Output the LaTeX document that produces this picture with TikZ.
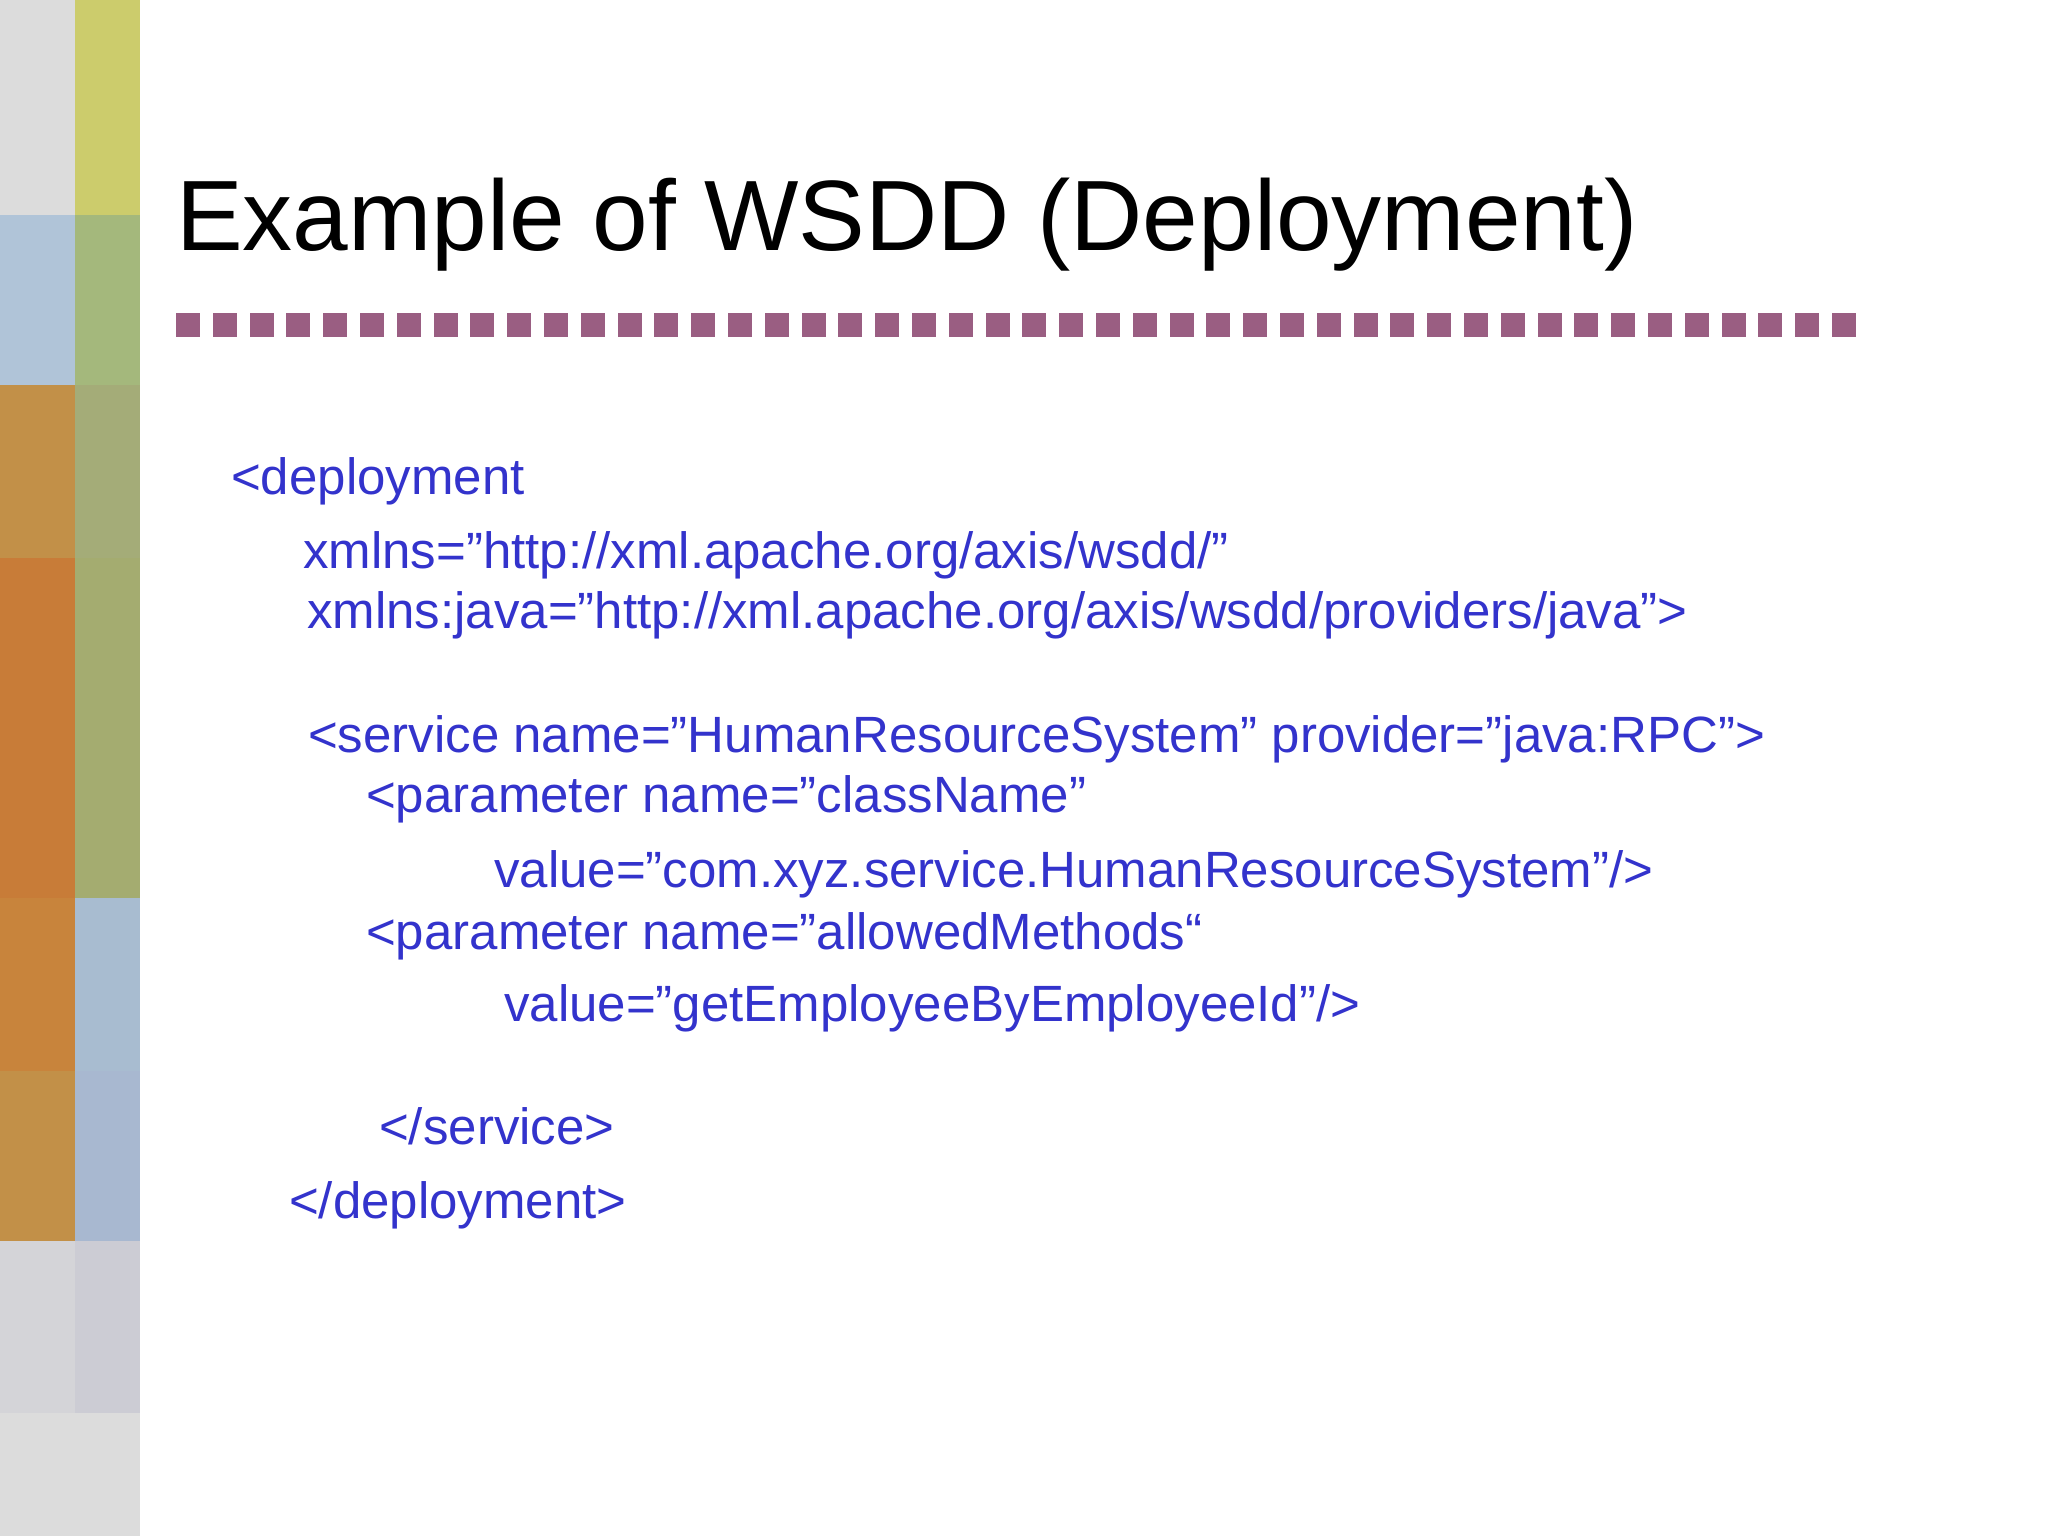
\documentclass[tikz,border=0pt]{standalone}
\usepackage{fontspec}
\setmainfont{Liberation Sans}
\definecolor{codeblue}{HTML}{3333CC}
\definecolor{sq}{HTML}{9A5E82}
\begin{document}
\begin{tikzpicture}[x=1pt,y=-1pt,
  code/.style={anchor=base west,inner sep=0,text=codeblue,font=\fontsize{51}{60}\selectfont}]
\useasboundingbox (0,0) rectangle (2048,1536);
\fill[white] (0,0) rectangle (2048,1536);
% column 1
\fill[fill={rgb,255:red,220;green,220;blue,220}] (0,0) rectangle (75,215);
\fill[fill={rgb,255:red,176;green,196;blue,216}] (0,215) rectangle (75,385);
\fill[fill={rgb,255:red,194;green,144;blue,72}] (0,385) rectangle (75,558);
\fill[fill={rgb,255:red,200;green,124;blue,56}] (0,558) rectangle (75,898);
\fill[fill={rgb,255:red,200;green,132;blue,60}] (0,898) rectangle (75,1071);
\fill[fill={rgb,255:red,194;green,144;blue,72}] (0,1071) rectangle (75,1241);
\fill[fill={rgb,255:red,212;green,212;blue,216}] (0,1241) rectangle (75,1413);
\fill[fill={rgb,255:red,220;green,220;blue,220}] (0,1413) rectangle (75,1536);
% column 2
\fill[fill={rgb,255:red,204;green,204;blue,108}] (75,0) rectangle (140,215);
\fill[fill={rgb,255:red,164;green,184;blue,124}] (75,215) rectangle (140,385);
\fill[fill={rgb,255:red,164;green,172;blue,120}] (75,385) rectangle (140,558);
\fill[fill={rgb,255:red,164;green,172;blue,112}] (75,558) rectangle (140,898);
\fill[fill={rgb,255:red,168;green,188;blue,208}] (75,898) rectangle (140,1071);
\fill[fill={rgb,255:red,168;green,184;blue,208}] (75,1071) rectangle (140,1241);
\fill[fill={rgb,255:red,204;green,204;blue,212}] (75,1241) rectangle (140,1413);
\fill[fill={rgb,255:red,220;green,220;blue,220}] (75,1413) rectangle (140,1536);
% title
\node[anchor=base west,inner sep=0,font=\fontsize{100}{110}\selectfont] (title) at (176,250) {Example of WSDD (Deployment)};
% squares
\foreach \i in {0,...,45} \fill[sq] (176+36.8*\i,313) rectangle ++(24,24);
% code
\node[code] (l1) at (231,494) {<deployment};
\node[code] (l2) at (303,568) {xmlns="http://xml.apache.org/axis/wsdd/"};
\node[code] (l3) at (307,628) {xmlns:java="http://xml.apache.org/axis/wsdd/providers/java">};
\node[code] (l4) at (308,752) {<service name="HumanResourceSystem" provider="java:RPC">};
\node[code] (l5) at (366,812) {<parameter name="className"};
\node[code] (l6) at (494,887) {value="com.xyz.service.HumanResourceSystem"/>};
\node[code] (l7) at (366,949) {<parameter name="allowedMethods“};
\node[code] (l8) at (504,1021) {value="getEmployeeByEmployeeId"/>};
\node[code] (l9) at (379,1144) {</service>};
\node[code] (l10) at (289,1218) {</deployment>};
\end{tikzpicture}
\end{document}
